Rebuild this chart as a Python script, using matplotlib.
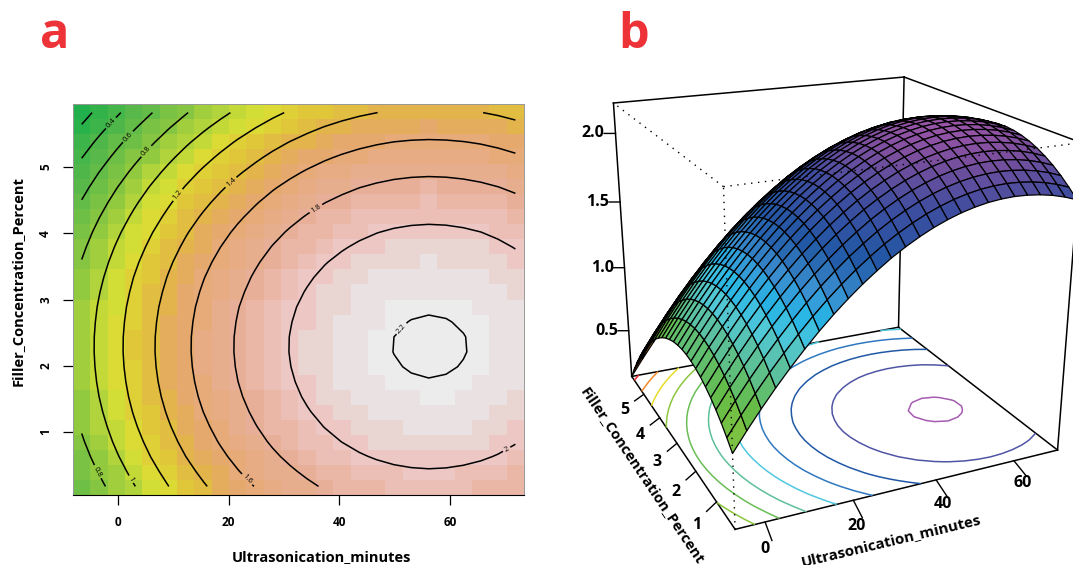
import numpy as np
import matplotlib
matplotlib.use('Agg')
import matplotlib.pyplot as plt
from matplotlib.colors import LinearSegmentedColormap, BoundaryNorm

plt.rcParams['font.family'] = ['Open Sans', 'DejaVu Sans']

minutes = [-6.5, -3.37, -0.24, 2.89, 6.02, 9.15, 12.28, 15.41, 18.54, 21.67, 24.8, 27.93, 31.06,
           34.19, 37.32, 40.45, 43.58, 46.71, 49.84, 52.97, 56.1, 59.23, 62.36, 65.49, 68.62, 71.75]
percent = [0.18, 0.406, 0.631, 0.857, 1.082, 1.308, 1.534, 1.759, 1.985, 2.21, 2.436, 2.662, 2.887,
           3.113, 3.338, 3.564, 3.79, 4.015, 4.241, 4.466, 4.692, 4.918, 5.143, 5.369, 5.594, 5.82]

# one row per percent value, one column per minutes value
response = np.array([
    [.629,.756,.876,.990,1.097,1.198,1.293,1.381,1.462,1.537,1.605,1.668,1.723,1.772,1.815,1.851,1.881,1.904,1.921,1.931,1.935,1.932,1.923,1.908,1.886,1.857],
    [.685,.812,.932,1.046,1.153,1.254,1.349,1.437,1.518,1.593,1.661,1.724,1.779,1.828,1.871,1.907,1.937,1.960,1.977,1.987,1.991,1.988,1.979,1.964,1.942,1.913],
    [.736,.863,.983,1.097,1.204,1.305,1.400,1.488,1.569,1.644,1.712,1.775,1.830,1.879,1.922,1.958,1.988,2.011,2.028,2.038,2.042,2.039,2.030,2.015,1.993,1.964],
    [.780,.907,1.027,1.141,1.248,1.349,1.444,1.532,1.613,1.688,1.756,1.819,1.874,1.923,1.966,2.002,2.032,2.055,2.072,2.082,2.086,2.083,2.074,2.059,2.037,2.008],
    [.817,.944,1.064,1.178,1.285,1.386,1.481,1.569,1.650,1.725,1.793,1.856,1.911,1.960,2.003,2.039,2.069,2.092,2.109,2.119,2.123,2.120,2.111,2.096,2.074,2.045],
    [.848,.975,1.095,1.209,1.316,1.417,1.512,1.600,1.681,1.756,1.824,1.887,1.942,1.991,2.034,2.070,2.100,2.123,2.140,2.150,2.154,2.151,2.142,2.127,2.105,2.076],
    [.873,1.000,1.120,1.234,1.341,1.442,1.537,1.625,1.706,1.781,1.849,1.912,1.967,2.016,2.059,2.095,2.125,2.148,2.165,2.175,2.179,2.176,2.167,2.152,2.130,2.101],
    [.891,1.018,1.138,1.252,1.359,1.460,1.555,1.643,1.724,1.799,1.867,1.930,1.985,2.034,2.077,2.113,2.143,2.166,2.183,2.193,2.197,2.194,2.185,2.170,2.148,2.119],
    [.903,1.030,1.150,1.264,1.371,1.472,1.567,1.655,1.736,1.811,1.879,1.942,1.997,2.046,2.089,2.125,2.155,2.178,2.195,2.205,2.209,2.206,2.197,2.182,2.160,2.131],
    [.909,1.036,1.156,1.270,1.377,1.478,1.573,1.661,1.742,1.817,1.885,1.948,2.003,2.052,2.095,2.131,2.161,2.184,2.201,2.211,2.215,2.212,2.203,2.188,2.166,2.137],
    [.908,1.035,1.155,1.269,1.376,1.477,1.572,1.660,1.741,1.816,1.884,1.947,2.002,2.051,2.094,2.130,2.160,2.183,2.200,2.210,2.214,2.211,2.202,2.187,2.165,2.136],
    [.900,1.027,1.147,1.261,1.368,1.469,1.564,1.652,1.733,1.808,1.876,1.939,1.994,2.043,2.086,2.122,2.152,2.175,2.192,2.202,2.206,2.203,2.194,2.179,2.157,2.128],
    [.887,1.014,1.134,1.248,1.355,1.456,1.551,1.639,1.720,1.795,1.863,1.926,1.981,2.030,2.073,2.109,2.139,2.162,2.179,2.189,2.193,2.190,2.181,2.166,2.144,2.115],
    [.866,.993,1.113,1.227,1.334,1.435,1.530,1.618,1.699,1.774,1.842,1.905,1.960,2.009,2.052,2.088,2.118,2.141,2.158,2.168,2.172,2.169,2.160,2.145,2.123,2.094],
    [.840,.967,1.087,1.201,1.308,1.409,1.504,1.592,1.673,1.748,1.816,1.879,1.934,1.983,2.026,2.062,2.092,2.115,2.132,2.142,2.146,2.143,2.134,2.119,2.097,2.068],
    [.807,.934,1.054,1.168,1.275,1.376,1.471,1.559,1.640,1.715,1.783,1.846,1.901,1.950,1.993,2.029,2.059,2.082,2.099,2.109,2.113,2.110,2.101,2.086,2.064,2.035],
    [.767,.894,1.014,1.128,1.235,1.336,1.431,1.519,1.600,1.675,1.743,1.806,1.861,1.910,1.953,1.989,2.019,2.042,2.059,2.069,2.073,2.070,2.061,2.046,2.024,1.995],
    [.722,.849,.969,1.083,1.190,1.291,1.386,1.474,1.555,1.630,1.698,1.761,1.816,1.865,1.908,1.944,1.974,1.997,2.014,2.024,2.028,2.025,2.016,2.001,1.979,1.950],
    [.669,.796,.916,1.030,1.137,1.238,1.333,1.421,1.502,1.577,1.645,1.708,1.763,1.812,1.855,1.891,1.921,1.944,1.961,1.971,1.975,1.972,1.963,1.948,1.926,1.897],
    [.611,.738,.858,.972,1.079,1.180,1.275,1.363,1.444,1.519,1.587,1.650,1.705,1.754,1.797,1.833,1.863,1.886,1.903,1.913,1.917,1.914,1.905,1.890,1.868,1.839],
    [.546,.673,.793,.907,1.014,1.115,1.210,1.298,1.379,1.454,1.522,1.585,1.640,1.689,1.732,1.768,1.798,1.821,1.838,1.848,1.852,1.849,1.840,1.825,1.803,1.774],
    [.474,.601,.721,.835,.942,1.043,1.138,1.226,1.307,1.382,1.450,1.513,1.568,1.617,1.660,1.696,1.726,1.749,1.766,1.776,1.780,1.777,1.768,1.753,1.731,1.702],
    [.396,.523,.643,.757,.864,.965,1.060,1.148,1.229,1.304,1.372,1.435,1.490,1.539,1.582,1.618,1.648,1.671,1.688,1.698,1.702,1.699,1.690,1.675,1.653,1.624],
    [.312,.439,.559,.673,.780,.881,.976,1.064,1.145,1.220,1.288,1.351,1.406,1.455,1.498,1.534,1.564,1.587,1.604,1.614,1.618,1.615,1.606,1.591,1.569,1.540],
    [.221,.348,.468,.582,.689,.790,.885,.973,1.054,1.129,1.197,1.260,1.315,1.364,1.407,1.443,1.473,1.496,1.513,1.523,1.527,1.524,1.515,1.500,1.478,1.449],
    [.124,.251,.371,.485,.592,.693,.788,.876,.957,1.032,1.100,1.163,1.218,1.267,1.310,1.346,1.376,1.399,1.416,1.426,1.430,1.427,1.418,1.403,1.381,1.352],
])

levels = [0.2, 0.4, 0.6, 0.8, 1.0, 1.2, 1.4, 1.6, 1.8, 2.0, 2.2]
floor_colors = ['#ed2a30', '#f58a2a', '#e8dc2a', '#8cc63f', '#6abd55', '#5fc09a', '#50c8e0',
                '#2f78c0', '#2158a5', '#4f55a5', '#a55cb0']
label_spots = [(-1.44, 5.68), (1.8, 5.46), (4.86, 5.26), (-4.14, 0.38), (1.62, 0.25), (10.5, 4.6),
               (20.2, 4.79), (22.9, 0.25), (35.7, 4.38), (70.1, 0.75), (51.2, 2.56)]

heat_stops = [(0.095, '#21b04b'), (0.5, '#5cba4a'), (0.8, '#90c940'), (1.1, '#dbe135'), (1.25, '#e0c838'),
              (1.38, '#e3b648'), (1.5, '#e5a96b'), (1.8, '#e9b09b'), (1.98, '#edc8c5'), (2.045, '#e9d6d3'),
              (2.11, '#ebe3e3'), (2.175, '#ececec')]
surf_stops = [(0.124, '#e8392b'), (0.3, '#f08a2a'), (0.5, '#b8c830'), (0.63, '#8dc63f'), (0.85, '#65bc46'),
              (1.08, '#5bc0a0'), (1.22, '#50c8d8'), (1.34, '#27b5e6'), (1.47, '#3a8fd0'), (1.65, '#2158a5'),
              (1.9, '#3f4d9f'), (2.1, '#7b4f9d'), (2.215, '#9a55a8')]


def make_cmap(stops, name):
    lo, hi = stops[0][0], stops[-1][0]
    return LinearSegmentedColormap.from_list(name, [((v - lo) / (hi - lo), c) for v, c in stops])


fig = plt.figure(figsize=(10.73, 5.65), dpi=100)
fig.text(40 / 1073, 1 - 48 / 565, 'a', color='#ee3338', fontsize=35, fontweight='bold')
fig.text(618 / 1073, 1 - 48 / 565, 'b', color='#ee3338', fontsize=35, fontweight='bold')

# panel a
ax = fig.add_axes([73 / 1073, 1 - 495 / 565, 451 / 1073, 391 / 565])
heat_cmap = make_cmap(heat_stops, 'heat')
bounds = list(np.arange(0.095, 2.2, 0.065)) + [2.3]
ax.imshow(response, origin='lower', aspect='auto', extent=[-8.07, 73.3, 0.05, 5.95],
          cmap=heat_cmap, norm=BoundaryNorm(bounds, 256), interpolation='nearest')
cs = ax.contour(minutes, percent, response, levels=levels, colors='black', linewidths=1.1)
ax.clabel(cs, fmt='%g', fontsize=5.5, inline=True, inline_spacing=2, manual=label_spots)
ax.set_xlim(-8.07, 73.3)
ax.set_ylim(0.05, 5.95)
ax.set_xticks([0, 20, 40, 60])
ax.set_yticks([1, 2, 3, 4, 5])
ax.tick_params(length=7, width=0.9, labelsize=8.5, pad=8)
for lab in ax.get_xticklabels():
    lab.set_fontweight('bold')
for lab in ax.get_yticklabels():
    lab.set_fontweight('bold')
    lab.set_rotation(90)
    lab.set_va('center')
for side in ['top', 'right', 'left']:
    ax.spines[side].set_color('#999999')
    ax.spines[side].set_linewidth(0.7)
fig.text(321 / 1073, 1 - 557 / 565, 'Ultrasonication_minutes', fontsize=10.5, fontweight='bold',
         ha='center', va='center')
fig.text(18 / 1073, 1 - 281 / 565, 'Filler_Concentration_Percent', fontsize=10.5, fontweight='bold',
         rotation=90, ha='center', va='center')

# panel b
x0, x1 = minutes[0], minutes[-1]
y0, y1 = percent[0], percent[-1]
z0, z1 = 0.124, 2.215
ax3 = fig.add_axes([0.456, -0.199, 0.62, 1.4], projection='3d', computed_zorder=False)
ax3.patch.set_visible(False)
ax3.set_axis_off()
ax3.set_proj_type('persp', focal_length=0.32)
ax3.view_init(elev=20.5, azim=-114.5)
ax3.set_box_aspect((1.0, 1.0, 0.92), zoom=0.825)
ax3.set_xlim(x0, x1)
ax3.set_ylim(y0, y1)
ax3.set_zlim(z0, z1)

solid_edges = [((x0, y0, z0), (x1, y0, z0)), ((x1, y0, z0), (x1, y1, z0)), ((x1, y1, z0), (x0, y1, z0)),
               ((x0, y1, z0), (x0, y0, z0)), ((x0, y1, z0), (x0, y1, z1)), ((x1, y1, z0), (x1, y1, z1)),
               ((x1, y0, z0), (x1, y0, z1)), ((x0, y1, z1), (x1, y1, z1)), ((x1, y1, z1), (x1, y0, z1))]
dotted_edges = [((x0, y0, z0), (x0, y0, z1)), ((x0, y0, z1), (x0, y1, z1)), ((x0, y0, z1), (x1, y0, z1))]
for a, b in solid_edges:
    ax3.plot(*zip(a, b), color='black', lw=1.1, zorder=1)
ax3.contour(minutes, percent, response, levels=levels, zdir='z', offset=z0, colors=floor_colors,
            linewidths=1.1, zorder=2)

X, Y = np.meshgrid(minutes, percent)
cell_mean = (response[:-1, :-1] + response[1:, :-1] + response[:-1, 1:] + response[1:, 1:]) / 4
surf_cmap = make_cmap(surf_stops, 'surf')
ax3.plot_surface(X, Y, response, facecolors=surf_cmap((cell_mean - z0) / (z1 - z0)), rstride=1, cstride=1,
                 edgecolor='black', linewidth=0.9, shade=False, antialiased=True, zorder=3)
for a, b in dotted_edges:
    ax3.plot(*zip(a, b), color='black', lw=1.0, ls=(0, (1, 4)), zorder=4)

for t in [0, 20, 40, 60]:
    ax3.plot([t, t - 1.2], [y0, y0 - 0.49], [z0, z0], color='black', lw=1, zorder=1)
    ax3.text(t - 3.5, y0 - 0.65, z0, str(t), fontsize=11.5, fontweight='bold', ha='center', va='center')
for t in [1, 2, 3, 4, 5]:
    ax3.plot([x0, x0 - 3.1], [t, t - 0.19], [z0, z0], color='black', lw=1, zorder=1)
    ax3.text(x0 - 6.6, t - 0.475, z0, str(t), fontsize=11.5, fontweight='bold', ha='center', va='center')
for t in [0.5, 1.0, 1.5, 2.0]:
    ax3.plot([x0, x0 - 2.5], [y1, y1 + 0.08], [t, t], color='black', lw=1, zorder=1)
    ax3.text(x0 - 5, y1 + 0.16, t, '%.1f' % t, fontsize=11.5, fontweight='bold', ha='center', va='center')

fig.text(891 / 1073, 1 - 541 / 565, 'Ultrasonication_minutes', fontsize=10.8, fontweight='bold',
         rotation=13.5, ha='center', va='center')
fig.text(642 / 1073, 1 - 476 / 565, 'Filler_Concentration_Percent', fontsize=10.5, fontweight='bold',
         rotation=-56, ha='center', va='center')

fig.savefig('out.png', dpi=100)
